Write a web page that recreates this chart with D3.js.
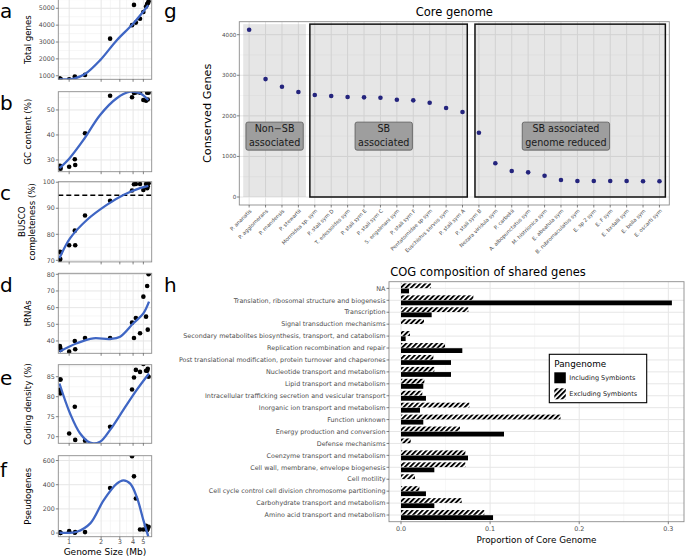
<!DOCTYPE html>
<html><head><meta charset="utf-8">
<script src="https://cdn.jsdelivr.net/npm/d3@7"></script>
<style>
body{margin:0;background:#fff}
svg{display:block}
text{font-family:"DejaVu Sans",sans-serif}
</style>
</head><body>
<svg id="c" width="685" height="556"></svg>
<script>
// ---------- DATA: panels a-f ----------
const genomeSize = [0.82,0.83,0.815,0.825,1.0,1.13,1.14,1.41,2.43,3.91,4.08,4.25,4.65,5.0,5.3,5.43,5.6,5.5];
const totalGenes = [810,800,830,820,790,960,900,1050,3200,4000,5200,4150,4380,4780,5100,5250,5400,5300];
const gcContent  = [27.7,26.5,26.8,27.0,27.3,30.3,28.0,40.7,55.7,55.1,56.8,57.0,56.9,54.0,53.7,56.9,56.9,54.2];
const busco      = [73.3,73.0,70.1,70.5,75.8,81.4,75.8,87.2,92.9,96.8,99.2,99.3,99.3,97.0,99.3,97.7,99.6,98.5];
const trnas      = [36.6,34.6,37.0,35.5,33.6,40.0,35.0,41.8,41.8,51.0,41.8,53.8,44.6,66.6,54.6,73.0,80.0,46.8];
const codingDens = [84.3,84.3,81.7,80.8,70.8,77.5,69.2,69.0,72.5,81.8,84.8,86.7,86.2,88.2,86.5,86.5,85.0,87.0];
const pseudogenes= [6,0,3,2,16,3,8,8,373,636,469,286,30,30,60,25,52,35];
const buscoThreshold = 95;

// smooth fits (genome size -> fitted value)
const fitSizeA = [0.81,0.95,1.11,1.41,1.96,2.81,4.02,5.56];
const fitA     = [800,780,830,1100,1927,3108,4095,5176];
const fitSizeB = [0.81,1.0,1.363,1.956,2.807,3.745,4.65,5.57];
const fitB     = [26.7,30.5,38,48,54.7,57.3,56.7,54];
const fitSizeC = [0.81,1.022,1.467,2.26,3.24,4.65,5.57];
const fitC     = [70.8,78.5,85.5,91.3,95.1,97.7,98.6];
const fitSizeD = [0.81,1.18,1.69,2.43,3.02,4.02,5.0,5.65];
const fitD     = [33.6,38.6,41.6,41.2,42.6,50.6,56.6,63.6];
const fitSizeE = [0.81,1.02,1.269,1.575,1.956,2.43,3.24,4.33,5.65];
const fitE     = [83.3,75.8,70.8,68.5,68.75,71.7,76.7,81.7,85.8];
const fitSizeF = [0.81,1.18,1.58,2.11,2.81,3.24,3.76,4.33,5.0,5.57];
const fitF     = [3,11,80,271,409,436,409,299,107,-30];

const xTicksLeft = [1,2,3,4,5];
const ticksA = [1000,2000,3000,4000,5000];
const ticksB = [30,40,50];
const ticksC = [70,80,90,100];
const ticksD = [40,50,60,70,80];
const ticksE = [70,75,80,85];
const ticksF = [0,200,400,600];

// ---------- DATA: panel g ----------
const species = ["P. ananatis","P. agglomerans","P. mandensis","P. stewartii","Mormidea sp. sym","P. stali sym D","T. edessoides sym","P. stali sym E","P. stali sym C","S. engelmani sym","P. stali sym F","Pentatomidae sp sym","Euschistus servus sym","P. stali sym A","P. stali sym B","Nezara viridula sym","P. carbekii","A. albopunctatus sym","M. histrionica sym","E. abeatula sym","B. rubromaculatus sym","E. sp 2 sym","E. F sym","E. bxdalli sym","E. bella sym","E. oscarti sym"];
const conservedGenes = [4120,2906,2717,2586,2512,2488,2463,2456,2446,2397,2382,2323,2192,2094,1584,830,640,608,525,419,394,394,394,394,390,390];
const groupLabels = ["Non\u2212SB|associated","SB|associated","SB associated|genome reduced"];
const groupFirst = [0,4,14];
const groupLast  = [3,13,25];
const groupBoxed = [false,true,true];
const ticksG = [0,1000,2000,3000,4000];

// ---------- DATA: panel h ----------
const cogCategories = ["NA","Translation, ribosomal structure and biogenesis","Transcription","Signal transduction mechanisms","Secondary metabolites biosynthesis, transport, and catabolism","Replication recombination and repair","Post translational modification, protein turnover and chaperones","Nucleotide transport and metabolism","Lipid transport and metabolism","Intracellular trafficking secretion and vesicular transport","Inorganic ion transport and metabolism","Function unknown","Energy production and conversion","Defense mechanisms","Coenzyme transport and metabolism","Cell wall, membrane, envelope biogenesis","Cell motility","Cell cycle control cell division chromosome partitioning","Carbohydrate transport and metabolism","Amino acid transport and metabolism"];
const includingSym = [0.009,0.304,0.0344,0,0.0052,0.0688,0.0561,0.0561,0.025,0.028,0.0213,0.025,0.1156,0,0.0752,0.0374,0,0.028,0.0374,0.1033];
const excludingSym = [0.0337,0.0812,0.0756,0.0258,0.0101,0.0494,0.0363,0.0374,0.0262,0.0239,0.0767,0.179,0.0662,0.0109,0.0722,0.0722,0.0157,0.0206,0.0681,0.0935];
const ticksH = [0,0.1,0.2,0.3];
const seriesNames = ["Including Symbionts","Excluding Symbionts"];

// ---------- DRAW ----------
const svg = d3.select("#c");
const defs = svg.append("defs");
const pat = defs.append("pattern").attr("id","hatch").attr("patternUnits","userSpaceOnUse")
  .attr("width",3.6).attr("height",3.6).attr("patternTransform","rotate(45)");
pat.append("rect").attr("width",3.6).attr("height",3.6).attr("fill","#fff");
pat.append("rect").attr("width",1.9).attr("height",3.6).attr("fill","#000");

const GRID = "#e6e6e6", GRIDMIN = "#f2f2f2", BORDER = "#8c8c8c", TICKTXT = "#4d4d4d";

// ----- left panels -----
const xL = d3.scaleLog().domain([0.79, 5.99]).range([58.3, 151.7]);
const xMinorLeft = [1.414,2.449,3.464,4.472];
const left = [
  {id:"a", title:["Total genes"], vals:totalGenes, fx:fitSizeA, fy:fitA, top:-1, bottom:79.3, domain:[790,5550], ticks:ticksA, letterY:18},
  {id:"b", title:["GC content (%)"], vals:gcContent, fx:fitSizeB, fy:fitB, top:91.7, bottom:171.7, domain:[25.3,57.3], ticks:ticksB, letterY:110},
  {id:"c", title:["BUSCO","completeness (%)"], vals:busco, fx:fitSizeC, fy:fitC, top:181.7, bottom:261.9, domain:[69.4,100.2], ticks:ticksC, letterY:200, hline:buscoThreshold},
  {id:"d", title:["tRNAs"], vals:trnas, fx:fitSizeD, fy:fitD, top:273.3, bottom:353.3, domain:[32.6,80.6], ticks:ticksD, letterY:292},
  {id:"e", title:["Coding density (%)"], vals:codingDens, fx:fitSizeE, fy:fitE, top:364.7, bottom:443.3, domain:[68.35,88], ticks:ticksE, letterY:385},
  {id:"f", title:["Pseudogenes"], vals:pseudogenes, fx:fitSizeF, fy:fitF, top:455.7, bottom:536.7, domain:[-30,640], ticks:ticksF, letterY:477, xlabels:true}
];
const [xl0,xl1] = xL.range();
left.forEach(p => {
  const y = d3.scaleLinear().domain(p.domain).range([p.bottom, p.top]);
  const g = svg.append("g");
  const cid = "clip"+p.id;
  defs.append("clipPath").attr("id",cid).append("rect")
    .attr("x",xl0).attr("y",p.top).attr("width",xl1-xl0).attr("height",p.bottom-p.top);
  g.append("rect").attr("x",xl0).attr("y",p.top).attr("width",xl1-xl0).attr("height",p.bottom-p.top).attr("fill","#fff");
  const gg = g.append("g").attr("clip-path",`url(#${cid})`);
  const step = p.ticks[1]-p.ticks[0];
  const minors = d3.range(p.ticks[0]-step/2, p.domain[1], step).filter(v=>v>p.domain[0]);
  gg.selectAll(".ymn").data(minors).join("line").attr("x1",xl0).attr("x2",xl1)
    .attr("y1",d=>y(d)).attr("y2",d=>y(d)).attr("stroke",GRIDMIN).attr("stroke-width",0.6);
  gg.selectAll(".xmn").data(xMinorLeft).join("line").attr("y1",p.top).attr("y2",p.bottom)
    .attr("x1",d=>xL(d)).attr("x2",d=>xL(d)).attr("stroke",GRIDMIN).attr("stroke-width",0.6);
  gg.selectAll(".ymj").data(p.ticks).join("line").attr("x1",xl0).attr("x2",xl1)
    .attr("y1",d=>y(d)).attr("y2",d=>y(d)).attr("stroke",GRID).attr("stroke-width",1);
  gg.selectAll(".xmj").data(xTicksLeft).join("line").attr("y1",p.top).attr("y2",p.bottom)
    .attr("x1",d=>xL(d)).attr("x2",d=>xL(d)).attr("stroke",GRID).attr("stroke-width",1);
  if (p.hline !== undefined) {
    gg.append("line").attr("x1",xl0).attr("x2",xl1).attr("y1",y(p.hline)).attr("y2",y(p.hline))
      .attr("stroke","#000").attr("stroke-width",1.3).attr("stroke-dasharray","5,3");
  }
  gg.selectAll("circle").data(genomeSize).join("circle")
    .attr("cx",d=>xL(d)).attr("cy",(d,i)=>y(p.vals[i])).attr("r",2.3).attr("fill","#000");
  const line = d3.line().x(d=>xL(d[0])).y(d=>y(d[1])).curve(d3.curveCatmullRom.alpha(0.5));
  gg.append("path").attr("d",line(p.fx.map((s,i)=>[s,p.fy[i]]))).attr("fill","none")
    .attr("stroke","#3F66C4").attr("stroke-width",2.3);
  g.append("rect").attr("x",xl0).attr("y",p.top).attr("width",xl1-xl0).attr("height",p.bottom-p.top)
    .attr("fill","none").attr("stroke",BORDER).attr("stroke-width",0.9);
  g.selectAll(".yt").data(p.ticks).join("line").attr("x1",xl0-2.5).attr("x2",xl0)
    .attr("y1",d=>y(d)).attr("y2",d=>y(d)).attr("stroke","#333").attr("stroke-width",0.6);
  g.selectAll(".yl").data(p.ticks).join("text").attr("x",xl0-3.5).attr("y",d=>y(d))
    .attr("dy","0.35em").attr("text-anchor","end").attr("font-size",6.3).attr("fill",TICKTXT).text(d=>d);
  g.selectAll(".xt").data(xTicksLeft).join("line").attr("x1",d=>xL(d)).attr("x2",d=>xL(d))
    .attr("y1",p.bottom).attr("y2",p.bottom+2.5).attr("stroke","#333").attr("stroke-width",0.6);
  if (p.xlabels) {
    g.selectAll(".xl").data(xTicksLeft).join("text").attr("x",d=>xL(d)).attr("y",p.bottom+7)
      .attr("text-anchor","middle").attr("font-size",6.5).attr("fill",TICKTXT).text(d=>d);
    g.append("text").attr("x",(xl0+xl1)/2).attr("y",555.3).attr("text-anchor","middle")
      .attr("font-size",9).text("Genome Size (Mb)");
  }
  const cy = (Math.max(p.top,0)+p.bottom)/2;
  const n = p.title.length;
  p.title.forEach((t,i)=>{
    const xx = n===1 ? 31 : 25 + i*10.3;
    g.append("text").attr("transform",`translate(${xx},${cy}) rotate(-90)`).attr("text-anchor","middle")
      .attr("font-size",8.6).text(t);
  });
  g.append("text").attr("x",0).attr("y",p.letterY).attr("font-size",20).text(p.id);
});

// ----- panel g -----
const gx0 = 239.3, gx1 = 669.3, gy0 = 21.7, gy1 = 205;
const xG = d3.scalePoint().domain(species).range([gx0,gx1]).padding(0.6);
const stepG = xG.step();
const yG = d3.scaleLinear().domain([-197,4320]).range([gy1,gy0]);
const G = svg.append("g");
G.append("rect").attr("x",gx0).attr("y",gy0).attr("width",gx1-gx0).attr("height",gy1-gy0).attr("fill","#fff");
G.selectAll(".mn").data([500,1500,2500,3500]).join("line").attr("x1",gx0).attr("x2",gx1)
  .attr("y1",d=>yG(d)).attr("y2",d=>yG(d)).attr("stroke",GRIDMIN).attr("stroke-width",0.6);
G.selectAll(".mj").data(ticksG).join("line").attr("x1",gx0).attr("x2",gx1)
  .attr("y1",d=>yG(d)).attr("y2",d=>yG(d)).attr("stroke",GRID).attr("stroke-width",1);
G.selectAll(".vx").data(species).join("line").attr("y1",gy0).attr("y2",gy1)
  .attr("x1",d=>xG(d)).attr("x2",d=>xG(d)).attr("stroke",GRID).attr("stroke-width",1);
const gxPos = i => xG(species[0]) + i*stepG;
const padL = [0.36,0.3,0.24], padR = [0.46,0.29,0.36];
groupLabels.forEach((lab,k)=>{
  const xa = gxPos(groupFirst[k]-padL[k]), xb = gxPos(groupLast[k]+padR[k]);
  G.append("rect").attr("x",xa).attr("y",yG(4260)).attr("width",xb-xa).attr("height",yG(0)-yG(4260))
    .attr("fill","#808080").attr("fill-opacity",0.2)
    .attr("stroke",groupBoxed[k]?"#111":"none").attr("stroke-width",1.5);
});
G.selectAll("circle").data(species).join("circle").attr("cx",d=>xG(d)).attr("cy",(d,i)=>yG(conservedGenes[i]))
  .attr("r",2.3).attr("fill","#24247d");
const labelCenters = [1.55,8.2,19.3];
groupLabels.forEach((lab,k)=>{
  const lines = lab.split("|");
  const cx = gxPos(labelCenters[k]), cy = yG(1500);
  const tg = G.append("g");
  const texts = lines.map((t,i)=>tg.append("text").attr("x",cx).attr("y",cy+(i-0.5)*14).attr("dy","0.35em")
    .attr("text-anchor","middle").attr("font-size",9.6).attr("fill","#1a1a1a").text(t));
  const w = d3.max(texts, t=>t.node().getComputedTextLength());
  tg.insert("rect","text").attr("x",cx-w/2-3).attr("y",cy-14).attr("width",w+6).attr("height",28)
    .attr("rx",2).attr("fill","#9e9e9e").attr("stroke","#555").attr("stroke-width",0.8);
});
G.append("rect").attr("x",gx0).attr("y",gy0).attr("width",gx1-gx0).attr("height",gy1-gy0)
  .attr("fill","none").attr("stroke",BORDER).attr("stroke-width",0.9);
G.selectAll(".ytk").data(ticksG).join("line").attr("x1",gx0-2.5).attr("x2",gx0)
  .attr("y1",d=>yG(d)).attr("y2",d=>yG(d)).attr("stroke","#333").attr("stroke-width",0.6);
G.selectAll(".ylb").data(ticksG).join("text").attr("x",gx0-3).attr("y",d=>yG(d)).attr("dy","0.35em")
  .attr("text-anchor","end").attr("font-size",5.6).attr("fill",TICKTXT).text(d=>d);
G.selectAll(".xtk").data(species).join("line").attr("x1",d=>xG(d)).attr("x2",d=>xG(d))
  .attr("y1",gy1).attr("y2",gy1+2.5).attr("stroke","#333").attr("stroke-width",0.6);
G.selectAll(".xlb").data(species).join("text")
  .attr("transform",d=>`translate(${xG(d)+1.5},${gy1+5}) rotate(-45)`)
  .attr("text-anchor","end").attr("dy","0.35em").attr("font-size",5.2).attr("fill",TICKTXT).text(d=>d);
G.append("text").attr("x",(gx0+gx1)/2).attr("y",16).attr("text-anchor","middle").attr("font-size",11.5).text("Core genome");
G.append("text").attr("transform",`translate(211,${(gy0+gy1)/2}) rotate(-90)`).attr("text-anchor","middle")
  .attr("font-size",11.3).text("Conserved Genes");
G.append("text").attr("x",164).attr("y",18).attr("font-size",20).text("g");

// ----- panel h -----
const hx0 = 389, hx1 = 684, hy0 = 281.7, hy1 = 521.7;
const xH = d3.scaleLinear().domain([-0.01347,0.3176]).range([hx0,hx1]);
const yH = d3.scalePoint().domain(cogCategories).range([hy0,hy1]).padding(0.56);
const stH = yH.step();
const H = svg.append("g");
H.append("rect").attr("x",hx0).attr("y",hy0).attr("width",hx1-hx0).attr("height",hy1-hy0).attr("fill","#fff");
H.selectAll(".vmn").data([0.05,0.15,0.25]).join("line").attr("y1",hy0).attr("y2",hy1)
  .attr("x1",d=>xH(d)).attr("x2",d=>xH(d)).attr("stroke",GRIDMIN).attr("stroke-width",0.6);
H.selectAll(".vmj").data(ticksH).join("line").attr("y1",hy0).attr("y2",hy1)
  .attr("x1",d=>xH(d)).attr("x2",d=>xH(d)).attr("stroke",GRID).attr("stroke-width",1);
H.selectAll(".hmj").data(cogCategories).join("line").attr("x1",hx0).attr("x2",hx1)
  .attr("y1",d=>yH(d)).attr("y2",d=>yH(d)).attr("stroke",GRID).attr("stroke-width",1);
const bh = stH*0.4;
H.selectAll(".bex").data(cogCategories).join("rect").attr("x",xH(0)).attr("y",d=>yH(d)-bh-0.2)
  .attr("width",(d,i)=>xH(excludingSym[i])-xH(0)).attr("height",bh).attr("fill","url(#hatch)");
H.selectAll(".bin").data(cogCategories).join("rect").attr("x",xH(0)).attr("y",d=>yH(d)+0.2)
  .attr("width",(d,i)=>xH(includingSym[i])-xH(0)).attr("height",bh).attr("fill","#000");
H.append("rect").attr("x",hx0).attr("y",hy0).attr("width",hx1-hx0).attr("height",hy1-hy0)
  .attr("fill","none").attr("stroke",BORDER).attr("stroke-width",0.9);
H.selectAll(".ytk").data(cogCategories).join("line").attr("x1",hx0-2.5).attr("x2",hx0)
  .attr("y1",d=>yH(d)).attr("y2",d=>yH(d)).attr("stroke","#333").attr("stroke-width",0.6);
H.selectAll(".ylb").data(cogCategories).join("text").attr("x",hx0-3.5).attr("y",d=>yH(d)).attr("dy","0.35em")
  .attr("text-anchor","end").attr("font-size",6.4).attr("fill",TICKTXT).text(d=>d);
H.selectAll(".xtk").data(ticksH).join("line").attr("x1",d=>xH(d)).attr("x2",d=>xH(d))
  .attr("y1",hy1).attr("y2",hy1+2.5).attr("stroke","#333").attr("stroke-width",0.6);
H.selectAll(".xlb").data(ticksH).join("text").attr("x",d=>xH(d)).attr("y",hy1+9.5)
  .attr("text-anchor","middle").attr("font-size",6.4).attr("fill",TICKTXT).text(d=>d.toFixed(1));
H.append("text").attr("x",(hx0+hx1)/2).attr("y",hy1+21).attr("text-anchor","middle").attr("font-size",8.8)
  .text("Proportion of Core Genome");
H.append("text").attr("x",488).attr("y",276).attr("text-anchor","middle").attr("font-size",11.5)
  .text("COG composition of shared genes");
H.append("text").attr("x",164).attr("y",292).attr("font-size",20).text("h");
const L = H.append("g").attr("transform","translate(549.3,354.3)");
L.append("rect").attr("width",97.4).attr("height",48.4).attr("fill","#fff").attr("stroke","#000").attr("stroke-width",1.1);
L.append("text").attr("x",5).attr("y",13).attr("font-size",8.8).text("Pangenome");
seriesNames.forEach((s,i)=>{
  L.append("rect").attr("x",5).attr("y",18+i*16).attr("width",11.5).attr("height",11)
    .attr("fill", i===0 ? "#000" : "url(#hatch)");
  L.append("text").attr("x",20).attr("y",23.5+i*16).attr("dy","0.35em").attr("font-size",6.5).attr("fill","#222").text(s);
});
</script>
</body></html>
